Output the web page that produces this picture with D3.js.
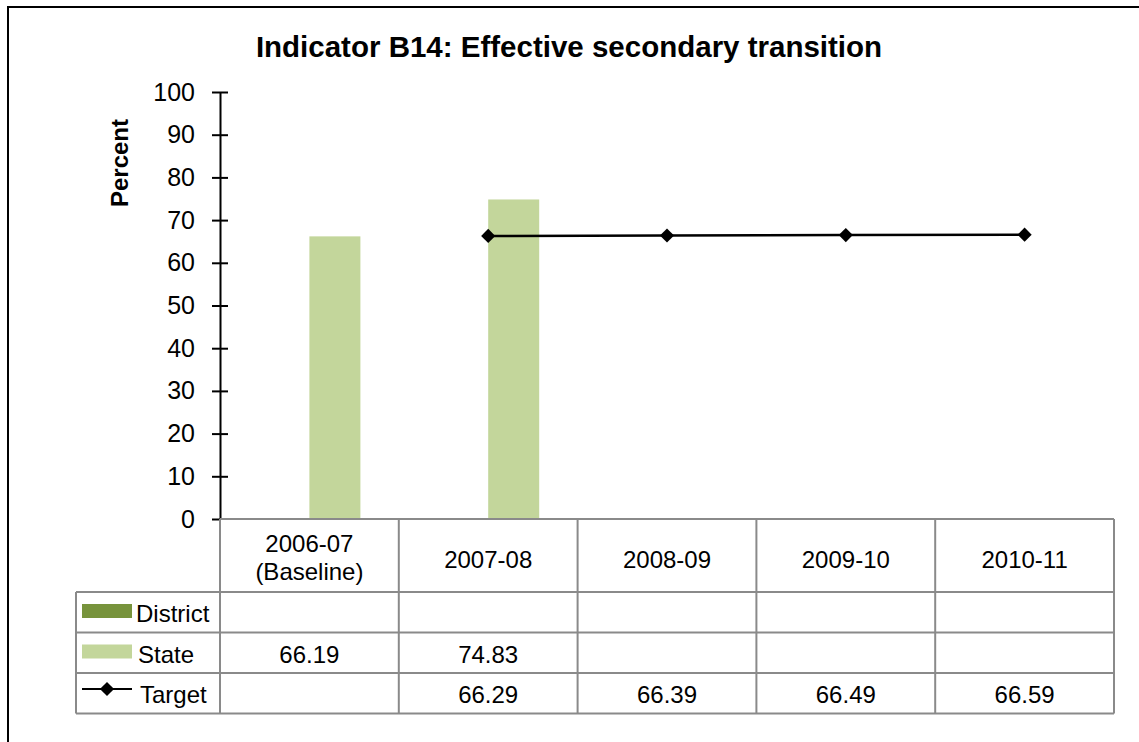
<!DOCTYPE html>
<html>
<head>
<meta charset="utf-8">
<script src="https://cdn.jsdelivr.net/npm/d3@7"></script>
<style>
  body { margin: 0; background: #fff; }
  text { font-family: Arial, "Liberation Sans", sans-serif; fill: #000; }
</style>
</head>
<body>
<div id="chart"></div>
<script>
var categories = ["2006-07\n(Baseline)", "2007-08", "2008-09", "2009-10", "2010-11"];
var district = [null, null, null, null, null];
var state = [66.19, 74.83, null, null, null];
var target = [null, 66.29, 66.39, 66.49, 66.59];
var yTicks = [0, 10, 20, 30, 40, 50, 60, 70, 80, 90, 100];
var seriesNames = ["District", "State"];

var width = 1139, height = 742;
var fontSize = 24;
var gridColor = "#8a8a8a";

var svg = d3.select("#chart").append("svg")
    .attr("width", width)
    .attr("height", height);

// outer frame, runs off the right and bottom of the picture
svg.append("rect")
    .attr("x", 8).attr("y", 7)
    .attr("width", 1200).attr("height", 800)
    .attr("fill", "none")
    .attr("stroke", "#000")
    .attr("stroke-width", 2);

var x = d3.scaleBand().domain(categories).range([220, 1114]);
var xs = d3.scaleBand().domain(seriesNames).range([0, x.bandwidth()]).paddingOuter(0.753);
var y = d3.scaleLinear().domain([0, 100]).range([519, 92]);

svg.append("text")
    .attr("x", 569)
    .attr("y", 57)
    .attr("text-anchor", "middle")
    .attr("font-weight", "bold")
    .attr("font-size", 29.5)
    .text("Indicator B14: Effective secondary transition");

svg.append("text")
    .attr("transform", "translate(128,163) rotate(-90)")
    .attr("text-anchor", "middle")
    .attr("font-weight", "bold")
    .attr("font-size", fontSize)
    .text("Percent");

// bars
var barColors = {District: "#77933c", State: "#c3d69b"};
var seriesData = {District: district, State: state};
seriesNames.forEach(function(s) {
    svg.append("g").selectAll("rect")
        .data(categories.map(function(c, i) { return {c: c, v: seriesData[s][i]}; })
            .filter(function(d) { return d.v != null; }))
        .join("rect")
        .attr("x", function(d) { return x(d.c) + xs(s); })
        .attr("width", xs.bandwidth())
        .attr("y", function(d) { return y(d.v); })
        .attr("height", function(d) { return y(0) - y(d.v); })
        .attr("fill", barColors[s]);
});

// y axis with cross ticks
var yAxis = svg.append("g")
    .attr("transform", "translate(220,0)")
    .call(d3.axisLeft(y).tickValues(yTicks).tickSizeInner(8).tickSizeOuter(0).tickPadding(17));
yAxis.select(".domain").attr("stroke", "#000").attr("stroke-width", 2);
yAxis.selectAll(".tick line").attr("stroke", "#000").attr("stroke-width", 2)
    .attr("x1", function(d) { return d === 0 ? 0 : 8; });
yAxis.selectAll(".tick text")
    .attr("font-size", 25)
    .attr("font-family", "Arial, 'Liberation Sans', sans-serif")
    .attr("fill", "#000");

// target line
var tPts = categories.map(function(c, i) { return {c: c, v: target[i]}; })
    .filter(function(d) { return d.v != null; });
var line = d3.line()
    .x(function(d) { return x(d.c) + x.bandwidth() / 2; })
    .y(function(d) { return y(d.v); });
svg.append("path")
    .datum(tPts)
    .attr("d", line)
    .attr("fill", "none")
    .attr("stroke", "#000")
    .attr("stroke-width", 2.5);
var diamond = d3.symbol().type(d3.symbolSquare).size(100);
svg.append("g").selectAll("path")
    .data(tPts)
    .join("path")
    .attr("d", diamond)
    .attr("transform", function(d) {
        return "translate(" + (x(d.c) + x.bandwidth() / 2) + "," + y(d.v) + ") rotate(45)";
    })
    .attr("fill", "#000");

// data table
var headTop = 519, headBottom = 592, rowH = 40.5;
var tableLeft = 76;
var rows = [
    {name: "District", values: district},
    {name: "State", values: state},
    {name: "Target", values: target}
];
var tableBottom = headBottom + rowH * rows.length;
var grid = svg.append("g").attr("stroke", gridColor).attr("stroke-width", 2);
grid.append("line").attr("x1", 220).attr("x2", 1114).attr("y1", headTop).attr("y2", headTop);
rows.forEach(function(r, i) {
    grid.append("line").attr("x1", tableLeft).attr("x2", 1114)
        .attr("y1", headBottom + rowH * i).attr("y2", headBottom + rowH * i);
});
grid.append("line").attr("x1", tableLeft).attr("x2", 1114).attr("y1", tableBottom).attr("y2", tableBottom);
grid.append("line").attr("x1", tableLeft).attr("x2", tableLeft).attr("y1", headBottom).attr("y2", tableBottom);
categories.forEach(function(c) {
    grid.append("line").attr("x1", x(c)).attr("x2", x(c)).attr("y1", headTop).attr("y2", tableBottom);
});
grid.append("line").attr("x1", 1114).attr("x2", 1114).attr("y1", headTop).attr("y2", tableBottom);

// category labels
categories.forEach(function(c) {
    var lines = c.split("\n");
    var t = svg.append("text")
        .attr("text-anchor", "middle")
        .attr("font-size", fontSize);
    lines.forEach(function(l, j) {
        t.append("tspan")
            .attr("x", x(c) + x.bandwidth() / 2)
            .attr("y", lines.length === 1 ? 568 : 552 + j * 28)
            .text(l);
    });
});

// row labels with legend keys, and values
rows.forEach(function(r, i) {
    var top = headBottom + rowH * i;
    if (r.name === "Target") {
        svg.append("line").attr("x1", 82).attr("x2", 132)
            .attr("y1", top + 16).attr("y2", top + 16)
            .attr("stroke", "#000").attr("stroke-width", 2);
        svg.append("path").attr("d", diamond)
            .attr("transform", "translate(107," + (top + 16) + ") rotate(45)")
            .attr("fill", "#000");
    } else {
        svg.append("rect").attr("x", 82).attr("y", top + 12)
            .attr("width", 50).attr("height", 14)
            .attr("fill", barColors[r.name]);
    }
    svg.append("text")
        .attr("x", r.name === "District" ? 136 : r.name === "State" ? 138 : 140)
        .attr("y", top + 30)
        .attr("font-size", fontSize)
        .text(r.name);
    categories.forEach(function(c, j) {
        if (r.values[j] == null) return;
        svg.append("text")
            .attr("x", x(c) + x.bandwidth() / 2)
            .attr("y", top + 30)
            .attr("text-anchor", "middle")
            .attr("font-size", fontSize)
            .text(d3.format(".2f")(r.values[j]));
    });
});
</script>
</body>
</html>
